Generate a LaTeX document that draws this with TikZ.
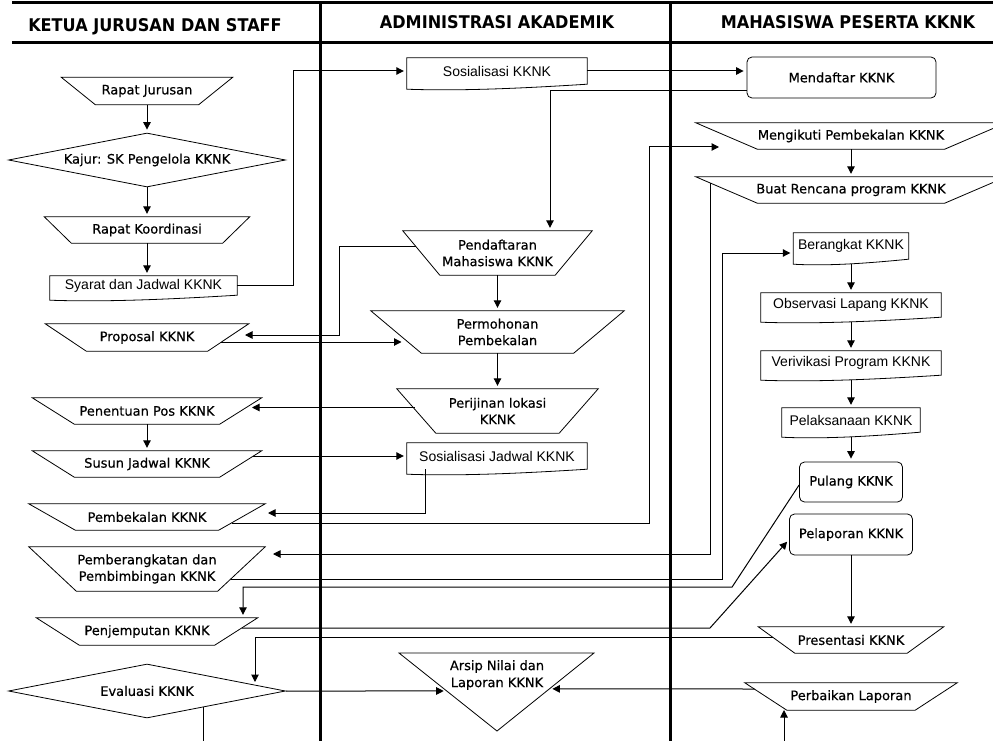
\documentclass[tikz,border=0pt]{standalone}
\usepackage{fontspec}
\newfontfamily\tahfont[FakeBold=0.5]{DejaVu Sans}
\newfontfamily\arifont{Liberation Sans}
\newfontfamily\hdrfont[FakeStretch=0.92]{DejaVu Sans}
\usetikzlibrary{shapes.geometric,arrows.meta,calc}

% document symbol: box with a wavy bottom edge
\newcommand{\docframe}[1]{%
  \draw[shape line] (#1.north west) -- (#1.north east) -- (#1.south east)
    .. controls ($(#1.south east)!0.35!(#1.south west)+(0,4)$)
       and ($(#1.south east)!0.7!(#1.south west)+(0,7)$)
    .. ($(#1.south west)+(0,5)$) -- cycle;}
% manual operation: wide top, bottom pulled in by #2
\newcommand{\manframe}[2]{%
  \draw[shape line] (#1.north west) -- (#1.north east)
    -- ([xshift=-#2pt]#1.south east) -- ([xshift=#2pt]#1.south west) -- cycle;}

\tikzset{
  shape line/.style={line width=0.8pt},
  manop/.style={rectangle, inner sep=0pt, align=center,
    font=\tahfont\fontsize{13}{16.5}\selectfont},
  decide/.style={diamond, aspect=5, draw, shape line, inner sep=0pt,
    minimum width=277pt, minimum height=54pt,
    font=\tahfont\fontsize{13}{16}\selectfont},
  docbox/.style={rectangle, inner sep=0pt, font=\arifont\fontsize{14}{16}\selectfont},
  roundbox/.style={rectangle, rounded corners=5pt, draw, shape line, inner sep=0pt,
    font=\tahfont\fontsize{13}{16}\selectfont},
  lanehead/.style={font=\hdrfont\bfseries\fontsize{17.5}{20}\selectfont},
  lane/.style={line width=3pt},
  link/.style={line width=1pt},
  arr/.style={link, -{Triangle[length=7.5pt,width=7.5pt]}, shorten >=3pt}
}

\begin{document}
\begin{tikzpicture}[x=1pt, y=-1pt]
\useasboundingbox (0,0) rectangle (993,741);

% lanes
\draw[lane] (12,3) -- (993,3);
\draw[lane] (12,43) -- (993,43);
\draw[lane] (320,3) -- (320,741);
\draw[lane] (670,3) -- (670,741);
\node[lanehead] (headkajur) at (155,27) {KETUA JURUSAN DAN STAFF};
\node[lanehead] (headadmin) at (497,22) {ADMINISTRASI AKADEMIK};
\node[lanehead] (headmhs) at (848,22) {MAHASISWA PESERTA KKNK};

% ketua jurusan dan staff
\node[manop, minimum width=171pt, minimum height=27pt] (rapat) at (147,91) {Rapat Jurusan};
\node[decide] (kajur) at (147,160) {Kajur: SK Pengelola KKNK};
\node[manop, minimum width=205pt, minimum height=26pt] (koord) at (147,230) {Rapat Koordinasi};
\node[docbox, minimum width=187pt, minimum height=19pt] (syarat) at (143.5,285.5) {Syarat dan Jadwal KKNK};
\node[manop, minimum width=203pt, minimum height=27pt] (proposal) at (147,337.5) {Proposal KKNK};
\node[manop, minimum width=229pt, minimum height=26pt] (pos) at (147,411) {Penentuan Pos KKNK};
\node[manop, minimum width=229pt, minimum height=26pt] (susun) at (147,464) {Susun Jadwal KKNK};
\node[manop, minimum width=236pt, minimum height=26pt] (bekal) at (147,517) {Pembekalan KKNK};
\node[manop, minimum width=236pt, minimum height=44pt] (bimbing) at (147,569) {Pemberangkatan dan\\Pembimbingan KKNK};
\node[manop, minimum width=221pt, minimum height=27pt] (jemput) at (147,631.5) {Penjemputan KKNK};
\node[decide] (evaluasi) at (147,691) {Evaluasi KKNK};

% administrasi akademik
\node[docbox, minimum width=180pt, minimum height=26pt] (sosial) at (497,71) {Sosialisasi KKNK};
\node[manop, minimum width=189pt, minimum height=44pt] (daftar) at (497.5,253) {Pendaftaran\\Mahasiswa KKNK};
\node[manop, minimum width=253pt, minimum height=42pt] (mohon) at (497.5,332) {Permohonan\\Pembekalan};
\node[manop, minimum width=201pt, minimum height=44pt] (ijin) at (497.5,411) {Perijinan lokasi\\KKNK};
\node[docbox, minimum width=180pt, minimum height=26pt] (sosjadwal) at (497,456) {Sosialisasi Jadwal KKNK};
\node[font=\tahfont\fontsize{13}{17}\selectfont, align=center] (arsip) at (497,675) {Arsip Nilai dan\\Laporan KKNK};
\draw[shape line] (399,653) coordinate (arsipkiri) -- (594,653) coordinate (arsipkanan)
  -- (497,731) coordinate (arsipujung) -- cycle;

% mahasiswa peserta kknk
\node[roundbox, minimum width=189pt, minimum height=41pt] (mendaftar) at (841.5,77.5) {Mendaftar KKNK};
\node[manop, minimum width=310pt, minimum height=26pt] (ikut) at (851,136) {Mengikuti Pembekalan KKNK};
\node[manop, minimum width=310pt, minimum height=26pt] (rencana) at (851,190) {Buat Rencana program KKNK};
\node[docbox, minimum width=115pt, minimum height=26pt] (berangkat) at (851,246) {Berangkat KKNK};
\node[docbox, minimum width=180pt, minimum height=24pt] (observasi) at (851,305) {Observasi Lapang KKNK};
\node[docbox, minimum width=180pt, minimum height=24pt] (verifikasi) at (851,363) {Verivikasi Program KKNK};
\node[docbox, minimum width=138pt, minimum height=24pt] (laksana) at (851,420) {Pelaksanaan KKNK};
\node[roundbox, minimum width=103pt, minimum height=40pt] (pulang) at (851,482) {Pulang KKNK};
\node[roundbox, minimum width=123pt, minimum height=41pt] (lapor) at (851,534.5) {Pelaporan KKNK};
\node[manop, minimum width=185pt, minimum height=26pt] (presentasi) at (851,640) {Presentasi KKNK};
\node[manop, minimum width=212pt, minimum height=27pt] (perbaikan) at (851,696.5) {Perbaikan Laporan};

\manframe{rapat}{34}
\manframe{koord}{27}
\manframe{proposal}{41}
\manframe{pos}{42}
\manframe{susun}{42}
\manframe{bekal}{46.5}
\manframe{bimbing}{47.5}
\manframe{jemput}{43}
\manframe{daftar}{37}
\manframe{mohon}{50.5}
\manframe{ijin}{39}
\manframe{ikut}{61.5}
\manframe{rencana}{61.5}
\manframe{presentasi}{36.5}
\manframe{perbaikan}{42}

\docframe{syarat}
\docframe{sosial}
\docframe{sosjadwal}
\docframe{berangkat}
\docframe{observasi}
\docframe{verifikasi}
\docframe{laksana}

% flow
\draw[arr] (rapat.south) -- (kajur.north);
\draw[arr] (kajur.south) -- (koord.north);
\draw[arr] (koord.south) -- (koord.south |- syarat.north);
\draw[arr] (syarat.east) -- ++(56,0) |- (sosial.west);
\draw[arr] (sosial.east) -- (sosial.east -| mendaftar.west);
\draw[arr] ([yshift=-13pt]mendaftar.west) -| ([xshift=52.5pt]daftar.north);
\draw[arr] ([shift={(-82,-7)}]daftar.center) -- ++(-76,0) |- ([shift={(95,-2.5)}]proposal.center);
\draw[arr] ([shift={(74,4.5)}]proposal.center) -- ([shift={(-93,10)}]mohon.center);
\draw[arr] (daftar.south) -- (mohon.north);
\draw[arr] (mohon.south) -- (ijin.north);
\draw[arr] ([shift={(-83,-3.5)}]ijin.center) -- ([shift={(102,-3.5)}]pos.center);
\draw[arr] (pos.south) -- (susun.north);
\draw[arr] ([shift={(106,-8)}]susun.center) -- (sosjadwal.west);
\draw[arr] ([xshift=-72pt]sosjadwal.south) |- ([shift={(118,-4)}]bekal.center);
\draw[arr] ([shift={(85,6)}]bekal.center) -- ++(417,0) |- ([shift={(-129,11)}]ikut.center);
\draw[arr] (ikut.south) -- (rencana.north);
\draw[arr] ([shift={(-140.5,-7)}]rencana.center) |- ([shift={(123,-15)}]bimbing.center);
\draw[arr] ([shift={(84,10)}]bimbing.center) -- ++(491,0) |- ([yshift=-7pt]berangkat.west);
\draw[arr] ([yshift=-5pt]berangkat.south) -- (observasi.north);
\draw[arr] ([yshift=-5pt]observasi.south) -- (verifikasi.north);
\draw[arr] ([yshift=-5pt]verifikasi.south) -- (laksana.north);
\draw[arr] ([yshift=-5pt]laksana.south) -- (pulang.north);
\draw[arr] ([yshift=-3pt]pulang.west) -- ++(-67,102) -| ([xshift=96pt]jemput.north);
\draw[arr] ([shift={(95,-3.5)}]jemput.center) -- ++(468,0) -- ([yshift=-5pt]lapor.west);
\draw[arr] (lapor.south) -- (presentasi.north);
\draw[arr] ([shift={(-78.5,-3)}]presentasi.center) -| ([shift={(108,-6)}]evaluasi.center);
\draw[arr] (evaluasi.east) -- ($(arsipkiri)!0.487!(arsipujung)$);
\draw[arr] ([shift={(-96.5,-7.5)}]perbaikan.center) -- ($(arsipkanan)!0.46!(arsipujung)$);

% lines running off the page
\coordinate (lanjut) at (203,745);
\coordinate (masuk) at (784,745);
\draw[link] ([shift={(56,16)}]evaluasi.center) -- (lanjut);
\draw[arr, shorten >=0pt] (masuk) -- ([shift={(-67,13.5)}]perbaikan.center);
\end{tikzpicture}
\end{document}
